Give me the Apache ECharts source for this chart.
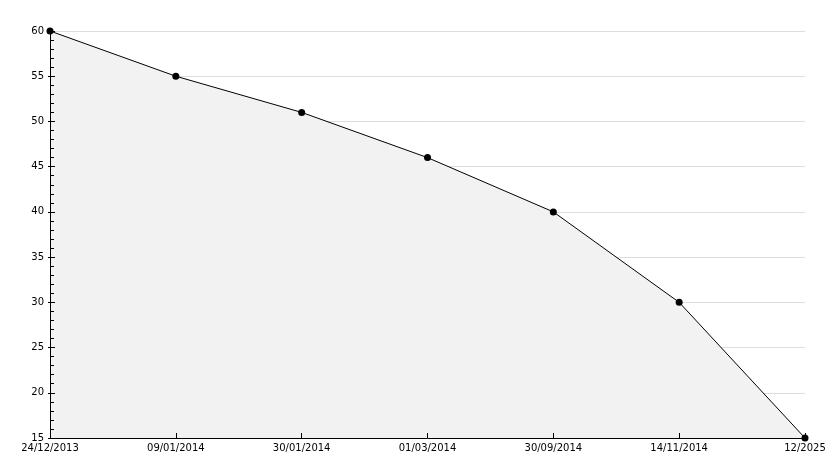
<!DOCTYPE html>
<html><head><meta charset="utf-8">
<script src="https://cdn.jsdelivr.net/npm/echarts@6/dist/echarts.min.js"></script>
<style>html,body{margin:0;padding:0;background:#fff}#c{width:834px;height:468px}</style>
</head><body><div id="c"></div>
<script>
const categories = ['24/12/2013','09/01/2014','30/01/2014','01/03/2014','30/09/2014','14/11/2014','12/2025'];
const values = [60, 55, 51, 46, 40, 30, 15];
const yMin = 15, yMax = 60, yStep = 5;

const chart = echarts.init(document.getElementById('c'), null, {renderer:'canvas'});
const font = {fontFamily:'DejaVu Sans', fontSize:10, color:'#000'};
chart.setOption({
  animation:false,
  backgroundColor:'#fff',
  grid:{left:50, right:29, top:31, bottom:30, containLabel:false},
  xAxis:{
    type:'category', data:categories, boundaryGap:false, z:5,
    axisLine:{lineStyle:{color:'#000', width:1}},
    axisTick:{show:true, inside:true, length:5, alignWithLabel:true, lineStyle:{color:'#000'}},
    axisLabel:Object.assign({margin:5, interval:0}, font),
    splitLine:{show:false}
  },
  yAxis:[{
    type:'value', min:yMin, max:yMax, interval:yStep, z:0,
    axisLine:{show:true, lineStyle:{color:'#000', width:1}},
    axisTick:{show:true, length:2, lineStyle:{color:'#000'}},
    axisLabel:Object.assign({margin:6}, font),
    splitLine:{show:true, lineStyle:{color:'#dddddd', width:1}}
  },{
    type:'value', min:yMin, max:yMax, interval:yStep, position:'left', offset:0, z:5,
    axisLine:{show:true, lineStyle:{color:'#000', width:1}},
    axisTick:{show:true, inside:true, length:5, lineStyle:{color:'#000'}},
    minorTick:{show:true, splitNumber:5, length:4, lineStyle:{color:'#000'}},
    axisLabel:{show:false},
    splitLine:{show:false}
  }],
  series:[{
    type:'line', data:values, yAxisIndex:0, z:2,
    symbol:'circle', symbolSize:7,
    itemStyle:{color:'#000'},
    lineStyle:{color:'#000', width:1},
    areaStyle:{color:'#f2f2f2', opacity:1, origin:'start'}
  }]
});
</script></body></html>
